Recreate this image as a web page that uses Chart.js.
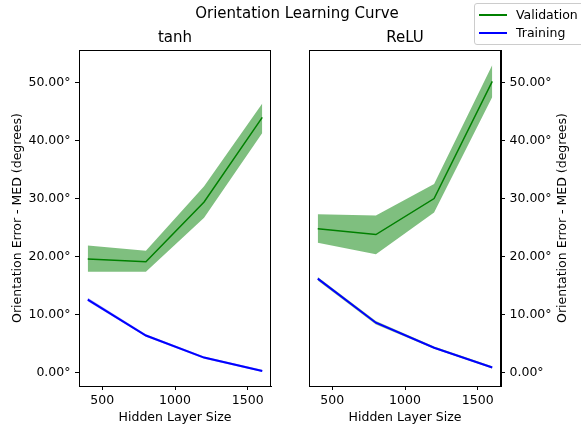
<!DOCTYPE html>
<html>
<head>
<meta charset="utf-8">
<title>Orientation Learning Curve</title>
<script src="https://cdn.jsdelivr.net/npm/chart.js@4.4.1/dist/chart.umd.min.js"></script>
<style>
  html, body { margin: 0; padding: 0; background: #fff; overflow: hidden; }
  body { width: 581px; height: 426px; position: relative; font-family: 'DejaVu Sans', sans-serif; }
  #chartTanh { position: absolute; left: 0; top: 0; }
  #chartRelu { position: absolute; left: 290px; top: 0; }
  #suptitle { position: absolute; left: 297px; top: 4px; transform: translateX(-50%);
              font-size: 15px; line-height: 18px; color: #000; white-space: nowrap; }
  #legend { position: absolute; left: 474px; top: 3px; width: 110px; height: 40px;
            border: 1px solid #ccc; border-radius: 3px; background: rgba(255,255,255,0.8); }
  .row { position: absolute; left: 0; height: 16px; font-size: 12.5px; line-height: 16px; color: #000; }
  .row span.swatch { position: absolute; left: 4px; top: 7px; width: 28px; height: 2px; }
  .row span.lbl { position: absolute; left: 41px; top: 0; white-space: nowrap; }
</style>
</head>
<body>
<canvas id="chartTanh" width="290" height="426"></canvas>
<canvas id="chartRelu" width="291" height="426"></canvas>
<div id="suptitle">Orientation Learning Curve</div>
<div id="legend">
  <div class="row" style="top:3px"><span class="swatch" style="background:#008000"></span><span class="lbl">Validation</span></div>
  <div class="row" style="top:21px"><span class="swatch" style="background:#0000ff"></span><span class="lbl">Training</span></div>
</div>
<script>
"use strict";

// hidden layer sizes on the x axis
const hiddenSizes = [400, 800, 1200, 1600];
const xTicks = [500, 1000, 1500];
const yTicks = [0, 10, 20, 30, 40, 50];

// tanh
const tanhValMean  = [19.6, 19.1, 29.4, 44.0];
const tanhValUpper = [21.9, 21.0, 32.1, 46.4];
const tanhValLower = [17.4, 17.4, 26.7, 41.3];
const tanhTrainMean  = [12.6, 6.4, 2.6, 0.3];
const tanhTrainUpper = [12.9, 6.6, 2.8, 0.5];
const tanhTrainLower = [12.3, 6.2, 2.4, 0.1];

// ReLU
const reluValMean  = [24.8, 23.8, 30.0, 50.2];
const reluValUpper = [27.3, 27.1, 32.5, 53.0];
const reluValLower = [22.4, 20.4, 27.6, 47.5];
const reluTrainMean  = [16.2, 8.6, 4.3, 0.9];
const reluTrainUpper = [16.5, 8.9, 4.5, 1.1];
const reluTrainLower = [15.9, 8.3, 4.1, 0.7];

const yLabel = 'Orientation Error - MED (degrees)';

Chart.defaults.font.family = "'DejaVu Sans', sans-serif";
Chart.defaults.color = '#000';

function pts(ys) {
    return hiddenSizes.map((x, i) => ({ x: x, y: ys[i] }));
}

function band(ys, fill, bg) {
    return { data: pts(ys), borderWidth: 0, pointRadius: 0, fill: fill,
             backgroundColor: bg, tension: 0, order: 2 };
}

function makeDatasets(vMean, vUp, vLo, tMean, tUp, tLo, trainBand) {
    return [
        band(vUp, '+1', 'rgba(0,128,0,0.5)'),
        band(vLo, false, 'rgba(0,0,0,0)'),
        { label: 'Validation', data: pts(vMean), borderColor: '#008000', borderWidth: 1.5,
          pointRadius: 0, fill: false, tension: 0, order: 1 },
        band(tUp, '+1', trainBand),
        band(tLo, false, 'rgba(0,0,0,0)'),
        { label: 'Training', data: pts(tMean), borderColor: '#0000ff', borderWidth: 2,
          pointRadius: 0, fill: false, tension: 0, order: 0 }
    ];
}

// box around the plot area (all four spines)
const framePlugin = {
    id: 'frame',
    afterDraw(chart) {
        const a = chart.chartArea, c = chart.ctx;
        c.save();
        c.strokeStyle = '#000';
        c.lineWidth = 1;
        c.strokeRect(Math.round(a.left) + 0.5, Math.round(a.top) + 0.5,
                     Math.round(a.right - a.left) - 1, Math.round(a.bottom - a.top));
        c.restore();
    }
};

// right axis label reads bottom-to-top like matplotlib
const rightTitlePlugin = {
    id: 'rightTitle',
    afterDraw(chart) {
        const a = chart.chartArea, c = chart.ctx;
        c.save();
        c.translate(273, (a.top + a.bottom) / 2);
        c.rotate(-Math.PI / 2);
        c.font = "12.5px 'DejaVu Sans', sans-serif";
        c.fillStyle = '#000';
        c.textAlign = 'center';
        c.textBaseline = 'middle';
        c.fillText(yLabel, 0, 0);
        c.restore();
    }
};

function makeOptions(title, yPos) {
    const isLeft = yPos === 'left';
    return {
        responsive: false,
        animation: false,
        layout: { padding: isLeft ? { left: 0, right: 19, top: 0, bottom: 0 }
                                  : { left: 19, right: 0, top: 0, bottom: 0 } },
        plugins: {
            legend: { display: false },
            tooltip: { enabled: false },
            title: { display: true, text: title, fullSize: false, color: '#000',
                     font: { size: 15, weight: 'normal' }, padding: { top: 29, bottom: 3 } }
        },
        scales: {
            x: {
                type: 'linear', min: 340, max: 1660,
                afterBuildTicks: s => { s.ticks = xTicks.map(v => ({ value: v })); },
                afterFit: s => { s.height = 40; },
                ticks: { color: '#000', font: { size: 12.5 }, padding: 3.5, maxRotation: 0, autoSkip: false,
                         callback: v => String(v) },
                grid: { display: true, drawOnChartArea: false, drawTicks: true, tickLength: 4, color: '#000' },
                border: { display: true, color: '#000' },
                title: { display: true, text: 'Hidden Layer Size', color: '#000',
                         font: { size: 12.5 }, padding: { top: 0, bottom: 1 } }
            },
            y: {
                type: 'linear', position: yPos, min: -2.3, max: 55.6,
                afterBuildTicks: s => { s.ticks = yTicks.map(v => ({ value: v })); },
                afterFit: s => { s.width = isLeft ? 79 : 80; },
                ticks: { color: '#000', font: { size: 12.5 }, padding: 4.5, autoSkip: false,
                         callback: v => v.toFixed(2) + '\u00b0' },
                grid: { display: true, drawOnChartArea: false, drawTicks: true, tickLength: 4, color: '#000' },
                border: { display: true, color: '#000' },
                title: { display: isLeft, text: yLabel, color: '#000',
                         font: { size: 12.5 }, padding: { top: 10, bottom: 0 } }
            }
        }
    };
}

new Chart(document.getElementById('chartTanh'), {
    type: 'line',
    data: { datasets: makeDatasets(tanhValMean, tanhValUpper, tanhValLower,
                                   tanhTrainMean, tanhTrainUpper, tanhTrainLower, 'rgba(0,0,255,0.35)') },
    options: makeOptions('tanh', 'left'),
    plugins: [framePlugin]
});

new Chart(document.getElementById('chartRelu'), {
    type: 'line',
    data: { datasets: makeDatasets(reluValMean, reluValUpper, reluValLower,
                                   reluTrainMean, reluTrainUpper, reluTrainLower, 'rgba(0,128,0,0.45)') },
    options: makeOptions('ReLU', 'right'),
    plugins: [framePlugin, rightTitlePlugin]
});
</script>
</body>
</html>
